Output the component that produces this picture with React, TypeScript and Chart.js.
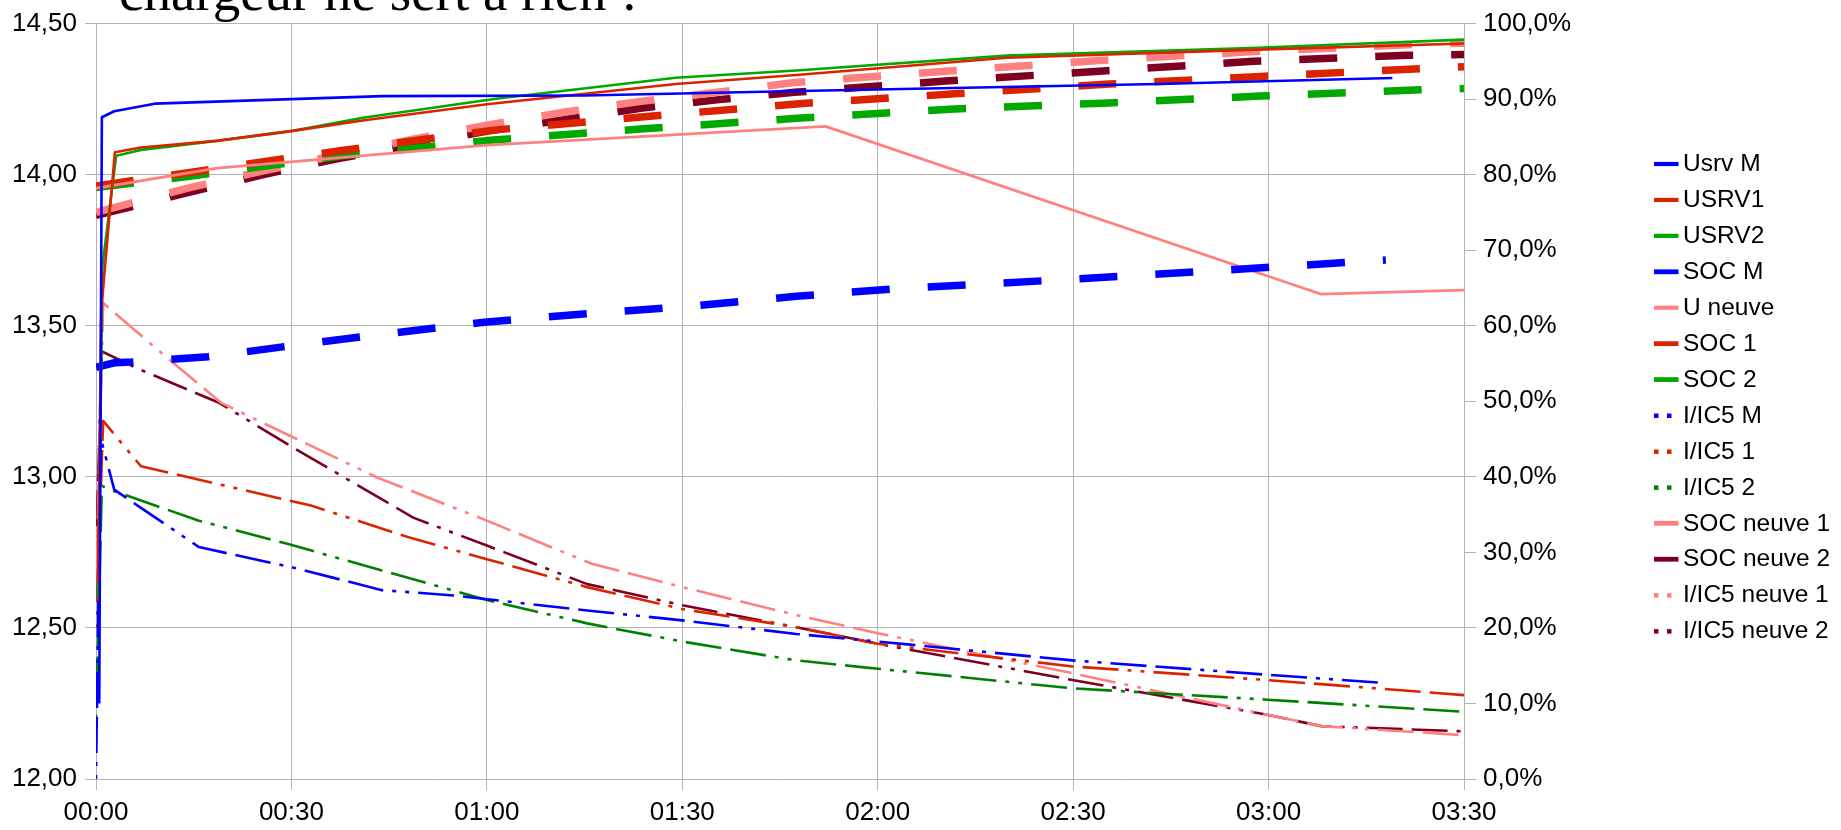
import React, { useEffect, useRef } from 'react';
import { Chart, registerables } from 'chart.js';

Chart.register(...registerables);

// ---- Axis ticks ----
const xTickMinutes = [0, 30, 60, 90, 120, 150, 180, 210];
const titleText = 'chargeur ne sert à rien !';

// ---- Series (time in minutes) ----
// Left axis (V)
const usrvMTimes = [0.5, 0.9, 2.8, 9, 44, 75, 108, 163, 199];
const usrvMValues = [12.25, 14.19, 14.21, 14.235, 14.26, 14.262, 14.277, 14.3, 14.32];

const usrv1Times = [0.3, 0.8, 2.9, 6.9, 18.5, 30.2, 41.2, 60, 89, 107.5, 139.8, 178.4, 210];
const usrv1Values = [12.65, 13.55, 14.074, 14.09, 14.112, 14.145, 14.18, 14.233, 14.3, 14.33, 14.387, 14.414, 14.434];

const usrv2Times = [0.3, 1.0, 3.1, 6.9, 18.5, 30.2, 41.2, 61.7, 89, 107.5, 139.8, 178.4, 210];
const usrv2Values = [12.6, 13.7, 14.063, 14.082, 14.112, 14.145, 14.189, 14.252, 14.321, 14.345, 14.394, 14.42, 14.447];

const uNeuveTimes = [0, 18.6, 60, 112, 188, 210];
const uNeuveValues = [13.955, 14.022, 14.098, 14.16, 13.605, 13.618];

// Right axis (%)
const socMTimes = [0, 2.8, 5.5, 17.2, 29.5, 41.2, 60, 75.4, 90, 107.5, 122.8, 146.4, 170, 198];
const socMValues = [54.5, 55.1, 55.2, 55.9, 57.3, 58.6, 60.5, 61.6, 62.5, 63.9, 64.9, 66.0, 67.2, 68.7];

const soc1Times = [0, 14.4, 37.7, 61, 84.6, 108, 131.8, 155.5, 178.7, 202.4, 210];
const soc1Values = [78.5, 80.3, 83.2, 85.9, 87.7, 89.4, 90.7, 92.0, 93.0, 94.0, 94.3];

const soc2Times = [0, 14.4, 37.7, 61, 84.6, 108.2, 131.8, 155.5, 178.7, 202.4, 210];
const soc2Values = [78.3, 79.8, 82.5, 84.6, 86.1, 87.5, 88.7, 89.5, 90.4, 91.2, 91.4];

const ic5MTimes = [0, 0.7, 2.8, 6.9, 15.8, 30.2, 43.9, 54.9, 75.4, 90, 107.5, 120, 149.9, 179.8, 198];
const ic5MValues = [0, 45.2, 38.3, 35.9, 30.7, 28.0, 25.0, 24.3, 22.3, 21.0, 19.2, 18.2, 15.7, 13.8, 12.7];

const ic51Times = [0, 1.1, 6.9, 33, 48, 60, 75.4, 90, 107.5, 120, 149.9, 179.8, 210];
const ic51Values = [20, 47.4, 41.4, 36.2, 32.0, 29.1, 25.4, 22.5, 20.1, 17.9, 14.9, 13.1, 11.1];

const ic52Times = [0, 0.9, 2.8, 15.8, 29.5, 43.9, 60, 75.4, 90, 107.5, 120, 149.9, 179.8, 210];
const ic52Values = [8, 38.8, 38.1, 34.2, 31.1, 27.6, 23.7, 20.6, 18.2, 15.7, 14.6, 12.0, 10.5, 8.9];

const socNeuve1Times = [0, 14.4, 25.7, 37, 48.7, 60.3, 72, 83.6, 95.3, 107.2, 130.4, 154, 177.7, 201.3, 210];
const socNeuve1Values = [75.0, 78.3, 80.5, 82.6, 84.7, 86.6, 88.3, 89.7, 90.9, 92.2, 93.7, 95.1, 96.3, 97.2, 97.4];

const socNeuve2Times = [0, 14.4, 25.7, 37, 60.3, 72, 83.6, 95.3, 107.2, 130.4, 154, 177.7, 201.3, 210];
const socNeuve2Values = [74.6, 77.7, 80.0, 82.1, 85.8, 87.3, 88.8, 89.9, 90.9, 92.4, 93.7, 95.0, 95.8, 95.9];

const ic5Neuve1Times = [0, 1.1, 11, 19.2, 43.2, 60, 76.1, 90, 107.5, 120, 149.9, 179.8, 188.1, 210];
const ic5Neuve1Values = [25, 63.0, 55.7, 49.8, 39.9, 34.2, 28.5, 25.4, 21.7, 19.3, 14.0, 8.5, 7.0, 5.8];

const ic5Neuve2Times = [0, 0.9, 6.2, 18.9, 30.2, 48.7, 60, 75.4, 90, 107.5, 120, 149.9, 179.8, 188.1, 210];
const ic5Neuve2Values = [30, 56.6, 54.4, 49.8, 43.9, 34.6, 30.9, 25.8, 23.0, 20.1, 17.9, 13.1, 8.5, 7.0, 6.3];

// ---- Styles ----
const BLUE = '#0000ff';
const RED = '#dc2300';
const GREEN = '#00a800';
const DARKGREEN = '#008000';
const PINK = '#ff8080';
const DARKRED = '#7e0021';
const GRID = '#b3b3b3';
const SOC_DASH = [38, 38];
const IC5_DASH = [4, 9, 4, 9, 36, 9, 36, 9];

function pts(t: number[], v: number[]) {
  return t.map((x, i) => ({ x, y: v[i] }));
}

type Kind = 'solid' | 'soc' | 'ic5';

function mk(label: string, t: number[], v: number[], color: string, kind: Kind, axis: string) {
  const base: any = {
    label,
    data: pts(t, v),
    borderColor: color,
    backgroundColor: color,
    yAxisID: axis,
    pointRadius: 0,
    pointHoverRadius: 0,
    tension: 0,
    fill: false,
    borderCapStyle: 'butt',
    borderJoinStyle: 'round',
    kind,
  };
  if (kind === 'solid') {
    base.borderWidth = label === 'U neuve' ? 2.8 : 2.6;
  } else if (kind === 'soc') {
    base.borderWidth = 7.5;
    base.borderDash = SOC_DASH;
    base.borderJoinStyle = 'miter';
  } else {
    base.borderWidth = 2.6;
    base.borderDash = IC5_DASH;
  }
  return base;
}

const fmtTime = (m: number) => {
  const h = Math.floor(m / 60);
  const mm = Math.round(m - h * 60);
  return String(h).padStart(2, '0') + ':' + String(mm).padStart(2, '0');
};

const legendPlugin = {
  id: 'customLegendAndTitle',
  afterDraw(chart: any) {
    const ctx = chart.ctx as CanvasRenderingContext2D;
    ctx.save();
    const x0 = 1654;
    const rowTop = 164;
    const rowStep = 35.93;
    chart.data.datasets.forEach((ds: any, i: number) => {
      const y = rowTop + i * rowStep;
      ctx.fillStyle = ds.borderColor;
      if (ds.kind === 'ic5') {
        ctx.fillRect(x0, y - 2, 4.5, 4.5);
        ctx.fillRect(x0 + 13, y - 2, 4.5, 4.5);
      } else {
        const h = ds.kind === 'soc' ? 4.8 : 4.2;
        ctx.fillRect(x0, y - h / 2, 24.5, h);
      }
      ctx.fillStyle = '#000';
      ctx.font = '24.5px "Liberation Sans", Arial, sans-serif';
      ctx.textBaseline = 'middle';
      ctx.textAlign = 'left';
      ctx.fillText(ds.label, 1683, y + 0.5);
    });
    ctx.fillStyle = '#000';
    ctx.font = '55px "Liberation Serif", "Times New Roman", serif';
    ctx.textBaseline = 'alphabetic';
    ctx.textAlign = 'left';
    ctx.fillText(titleText, 119, 10);
    ctx.restore();
  },
};

export default function App() {
  const canvasRef = useRef<HTMLCanvasElement | null>(null);

  useEffect(() => {
    const canvas = canvasRef.current;
    if (!canvas) return;
    const datasets = [
      mk('Usrv M', usrvMTimes, usrvMValues, BLUE, 'solid', 'y'),
      mk('USRV1', usrv1Times, usrv1Values, RED, 'solid', 'y'),
      mk('USRV2', usrv2Times, usrv2Values, GREEN, 'solid', 'y'),
      mk('SOC M', socMTimes, socMValues, BLUE, 'soc', 'y1'),
      mk('U neuve', uNeuveTimes, uNeuveValues, PINK, 'solid', 'y'),
      mk('SOC 1', soc1Times, soc1Values, RED, 'soc', 'y1'),
      mk('SOC 2', soc2Times, soc2Values, GREEN, 'soc', 'y1'),
      mk('I/IC5 M', ic5MTimes, ic5MValues, BLUE, 'ic5', 'y1'),
      mk('I/IC5 1', ic51Times, ic51Values, RED, 'ic5', 'y1'),
      mk('I/IC5 2', ic52Times, ic52Values, DARKGREEN, 'ic5', 'y1'),
      mk('SOC neuve 1', socNeuve1Times, socNeuve1Values, PINK, 'soc', 'y1'),
      mk('SOC neuve 2', socNeuve2Times, socNeuve2Values, DARKRED, 'soc', 'y1'),
      mk('I/IC5 neuve 1', ic5Neuve1Times, ic5Neuve1Values, PINK, 'ic5', 'y1'),
      mk('I/IC5 neuve 2', ic5Neuve2Times, ic5Neuve2Values, DARKRED, 'ic5', 'y1'),
    ];
    const tickFont = { family: '"Liberation Sans", Arial, sans-serif', size: 26 };
    const chart = new Chart(canvas, {
      type: 'line',
      data: { datasets },
      options: {
        responsive: false,
        animation: false,
        events: [],
        layout: { padding: { top: 21, left: 0, right: 0, bottom: 0 } },
        plugins: {
          legend: { display: false },
          tooltip: { enabled: false },
          title: { display: false },
        },
        scales: {
          x: {
            type: 'linear',
            min: 0,
            max: 210,
            afterBuildTicks: (s: any) => {
              s.ticks = xTickMinutes.map((v) => ({ value: v }));
            },
            ticks: {
              stepSize: 30,
              autoSkip: false,
              maxRotation: 0,
              color: '#000',
              font: tickFont,
              padding: 7,
              callback: (v: any) => fmtTime(Number(v)),
            },
            grid: { color: GRID, lineWidth: 1, tickLength: 11 },
            border: { color: GRID, width: 1 },
            afterFit: (s: any) => {
              s.height = 51;
            },
          },
          y: {
            type: 'linear',
            position: 'left',
            min: 12,
            max: 14.5,
            ticks: {
              stepSize: 0.5,
              color: '#000',
              font: tickFont,
              padding: 8,
              callback: (v: any) => Number(v).toFixed(2).replace('.', ','),
            },
            grid: { color: GRID, lineWidth: 1, tickLength: 11 },
            border: { color: GRID, width: 1 },
            afterFit: (s: any) => {
              s.width = 96;
            },
          },
          y1: {
            type: 'linear',
            position: 'right',
            min: 0,
            max: 100,
            ticks: {
              stepSize: 10,
              color: '#000',
              font: tickFont,
              padding: 7,
              callback: (v: any) => Number(v).toFixed(1).replace('.', ',') + '%',
            },
            grid: { drawOnChartArea: false, color: GRID, lineWidth: 1, tickLength: 12 },
            border: { color: GRID, width: 1 },
            afterFit: (s: any) => {
              s.width = 1841 - 1464;
            },
          },
        },
      } as any,
      plugins: [legendPlugin],
    });
    return () => {
      chart.destroy();
    };
  }, []);

  return (
    <div style={{ position: 'fixed', left: 0, top: 0, width: 1841, height: 830, background: '#fff' }}>
      <canvas ref={canvasRef} width={1841} height={830} style={{ display: 'block', width: 1841, height: 830 }} />
    </div>
  );
}
